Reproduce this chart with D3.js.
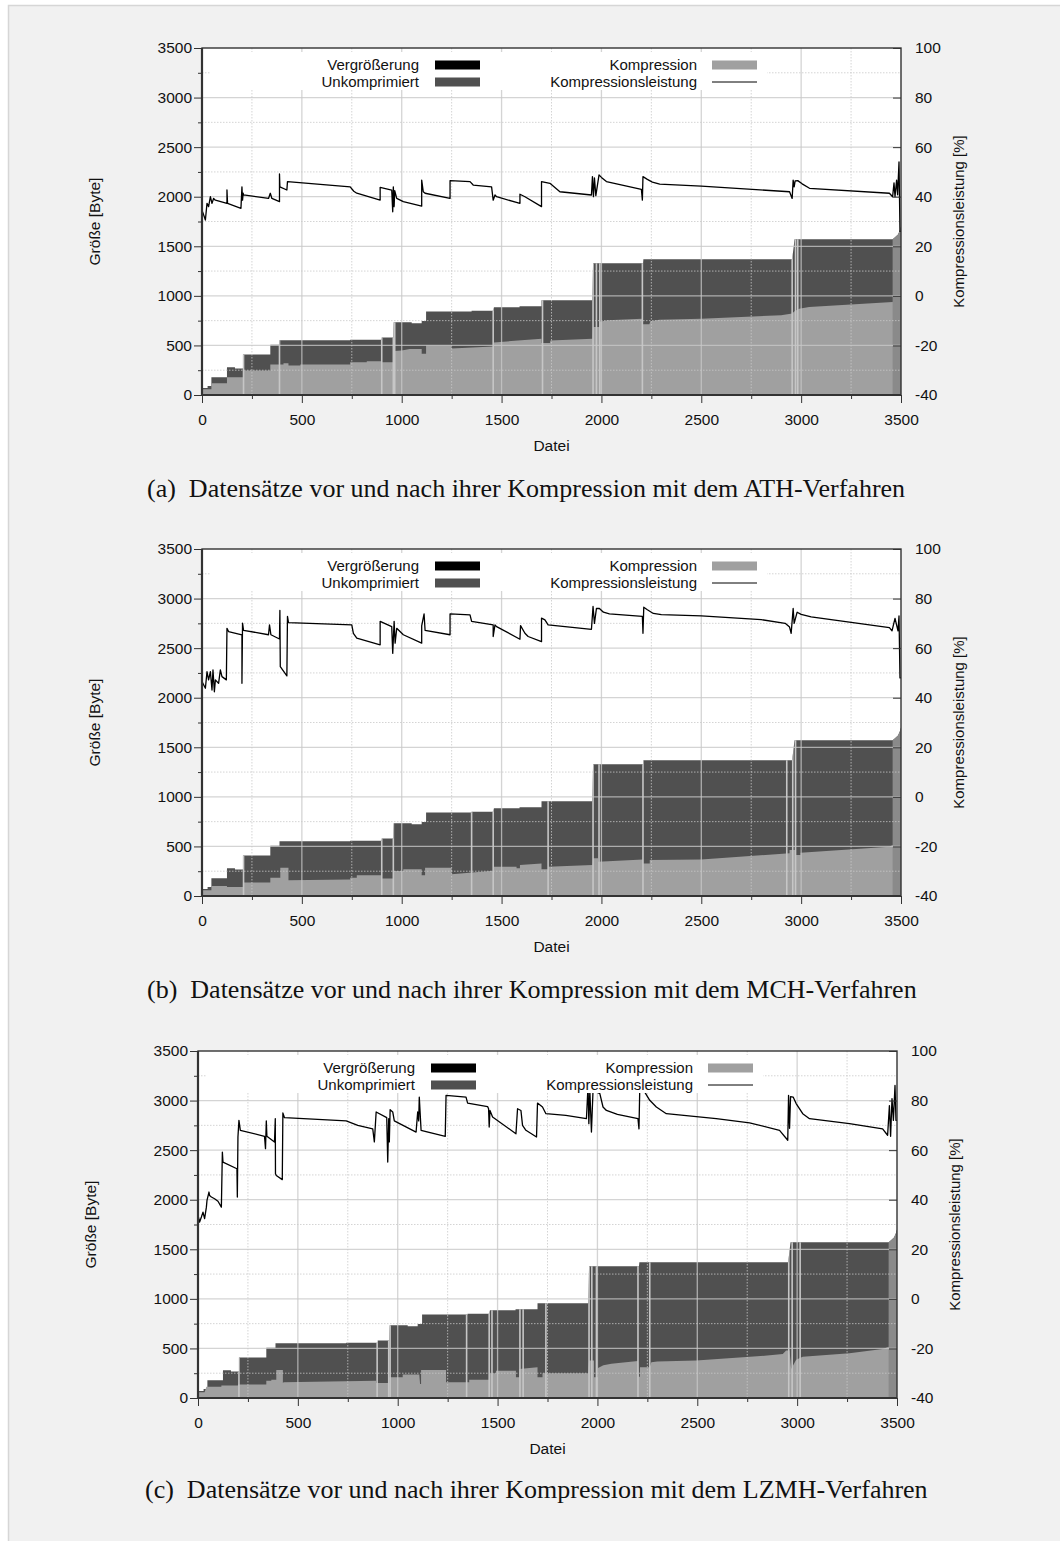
<!DOCTYPE html>
<html>
<head>
<meta charset="utf-8">
<script src="https://cdn.jsdelivr.net/npm/d3@7"></script>
<style>
  html, body { margin: 0; padding: 0; background: #fff; }
  svg { display: block; }
  text { font-family: "Liberation Sans", Arial, Helvetica, sans-serif; fill: #111; }
  .caption { font-family: "Liberation Serif", "Times New Roman", serif; font-size: 26px; white-space: pre; }
</style>
</head>
<body>
<svg id="chart" width="1060" height="1541"></svg>
<script>
// ---- data: file index vs. size in bytes (breakpoints of the per-file series) ----
const unkomprimiert = [
  [0,71],[28,71],[28,91],[47,91],[47,179],[125,179],[125,280],[165,280],[165,268],[205,268],
  [205,409],[342,409],[342,507],[388,507],[388,551],[742,551],[742,557],[900,557],[900,581],
  [958,581],[960,733],[1050,733],[1050,724],[1100,724],[1100,747],[1122,747],[1122,841],
  [1350,841],[1350,851],[1458,851],[1462,885],[1590,885],[1590,895],[1700,895],[1700,956],
  [1955,956],[1958,1328],[2208,1328],[2210,1368],[2955,1368],[2967,1571],[3458,1571],
  [3470,1590],[3485,1620],[3495,1665],[3500,1700]
];

const kompressionATH = [
  [0,57],[47,57],[47,118],[125,118],[125,179],[205,179],[205,247],[342,247],[342,307],
  [408,307],[408,321],[433,321],[433,297],[492,297],[492,307],[742,307],[742,331],[825,331],
  [825,341],[900,341],[900,331],[958,331],[962,443],[1000,450],[1040,463],[1100,463],
  [1100,415],[1122,415],[1122,500],[1250,500],[1250,470],[1458,490],[1462,530],[1700,568],
  [1700,524],[1742,524],[1745,550],[1955,568],[1958,686],[1990,686],[1990,740],[2030,755],
  [2205,770],[2205,713],[2240,713],[2245,745],[2290,758],[2500,770],[2900,804],[2955,821],
  [2967,845],[2990,870],[3040,888],[3458,939],[3480,990],[3500,1000]
];

const kompressionMCH = [
  [0,58],[47,58],[47,102],[125,102],[125,92],[205,92],[205,136],[342,136],[342,183],
  [392,183],[392,285],[433,285],[433,159],[742,166],[742,183],[775,183],[775,210],[900,210],
  [900,176],[958,176],[958,251],[1008,251],[1008,271],[1100,271],[1100,210],[1117,210],
  [1117,285],[1250,285],[1250,220],[1458,254],[1458,295],[1575,295],[1575,280],[1592,280],
  [1592,312],[1700,329],[1700,271],[1733,271],[1733,295],[1955,312],[1958,380],[1983,380],
  [1983,346],[2208,369],[2208,329],[2242,329],[2242,363],[2500,369],[2942,431],[2942,464],
  [2972,464],[2972,414],[2997,414],[2997,437],[3442,498],[3458,515],[3500,520]
];

const kompressionLZMH = [
  [0,57],[33,57],[42,114],[117,114],[117,125],[200,125],[200,135],[342,135],[342,175],
  [367,175],[367,185],[392,185],[392,283],[425,283],[425,148],[428,158],[892,175],[892,152],
  [958,152],[958,209],[1025,209],[1025,236],[1108,236],[1112,141],[1117,141],[1117,283],
  [1242,283],[1242,158],[1358,158],[1358,185],[1458,185],[1458,249],[1492,249],[1492,276],
  [1592,276],[1592,209],[1608,209],[1608,293],[1700,310],[1700,209],[1725,209],[1725,249],
  [1953,249],[1958,377],[1983,377],[1983,209],[2003,209],[2003,303],[2030,330],[2070,345],
  [2130,358],[2203,372],[2208,215],[2213,215],[2213,310],[2262,310],[2270,360],[2300,367],
  [2495,377],[2800,420],[2928,444],[2945,478],[2962,478],[2970,293],[2995,385],[3028,417],
  [3262,451],[3428,495],[3453,512],[3495,545],[3500,545]
];

// ---- compression ratio in percent ----
const leistungATH = [
  [0,34.6],[17,30.6],[25,37.3],[33,36],[42,40],[50,37.3],[58,39.3],[67,38.6],[125,37.3],
  [125,42.7],[128,37.3],[195,35.3],[200,44],[203,38.6],[206,41.4],[208,40.7],[333,39.3],
  [342,41.4],[350,39.3],[388,38],[388,49.2],[390,44],[425,42.7],[428,46.1],[742,44],
  [760,42.2],[775,41.4],[892,38.6],[892,43.8],[950,42.7],[955,33.9],[958,44],[962,36],
  [965,42.4],[975,39.3],[1008,38],[1100,36.2],[1100,46.7],[1108,42],[1117,41.4],[1242,39.3],
  [1242,46.5],[1342,46.1],[1358,44.7],[1450,44],[1458,38.6],[1467,40.7],[1475,40],
  [1592,37.3],[1592,41],[1617,40],[1700,36],[1700,46.1],[1742,45.4],[1792,42],[1950,40.7],
  [1955,48.1],[1960,40],[1965,47.6],[1972,40.4],[1988,48.8],[2000,47.8],[2025,46.1],
  [2200,43],[2205,38.6],[2208,48.1],[2230,47],[2255,45.9],[2292,45.1],[2500,44.3],
  [2942,42],[2955,39.3],[2960,46.7],[2965,44],[2970,46.4],[2983,46.5],[3005,45.2],
  [3042,43.4],[3442,41.4],[3458,40],[3465,45.6],[3470,40],[3478,46.7],[3483,40.8],
  [3490,54],[3495,26],[3500,26]
];

const leistungMCH = [
  [0,46.5],[8,45.2],[17,43.8],[25,50.5],[33,47.2],[42,50.5],[50,43.1],[55,51.2],[62,42.4],
  [67,47.2],[75,46.5],[83,45.8],[92,51.2],[100,48.5],[122,47.2],[125,68],[133,66.7],
  [200,65.4],[200,45.8],[203,70.1],[208,67.2],[333,65.4],[338,69.4],[345,65.4],[388,63.7],
  [390,75.2],[392,52.5],[425,48.8],[428,72.8],[433,70.3],[750,69.4],[758,66],[775,64],
  [892,61.3],[892,70.8],[950,68.7],[955,57.9],[962,70.8],[967,62],[975,68],[1008,65.4],
  [1100,62],[1100,69],[1112,73.8],[1117,67.2],[1242,65.4],[1242,73.8],[1342,73.4],
  [1350,70.8],[1458,69.4],[1458,64.7],[1467,69.4],[1475,68.7],[1592,63.6],[1595,69.1],
  [1617,66],[1633,64.7],[1700,62.6],[1700,72.1],[1717,71.4],[1733,69.4],[1842,68.5],
  [1950,67.6],[1958,76.8],[1965,70],[1975,76],[1990,76],[2010,74.5],[2040,73.8],
  [2205,72.8],[2208,66],[2212,76.5],[2230,75.5],[2260,74],[2300,73.5],[2500,73],
  [2800,71.5],[2920,70],[2942,68.5],[2950,66],[2960,76],[2965,70],[2980,74.5],[3000,73.6],
  [3050,72.6],[3442,68.3],[3455,67],[3470,72],[3485,67],[3490,73],[3495,48],[3500,48]
];

const leistungLZMH = [
  [0,33.7],[8,31],[17,33],[25,35],[33,32.4],[42,37],[45,39.7],[55,43.1],[58,41.7],[67,41.1],
  [83,40.4],[100,39.4],[117,37],[122,59.2],[125,55.2],[195,52.5],[197,41.1],[200,65.3],
  [205,72],[212,68],[333,65.6],[338,60.6],[342,71.8],[345,65.6],[383,63.3],[387,72.7],
  [388,50.5],[392,49.8],[422,48.1],[425,75],[433,73.1],[742,71.8],[800,70],[875,68.6],
  [883,63.3],[892,75.4],[945,73.1],[950,55.2],[955,72.7],[958,63.3],[962,76.3],[975,75.4],
  [983,71.8],[1092,67.3],[1100,75.4],[1105,71.8],[1108,81.4],[1117,68],[1238,65.6],
  [1242,82.1],[1342,81.4],[1350,79],[1450,77.6],[1455,76.7],[1458,69.3],[1462,76],
  [1475,73.4],[1592,66.6],[1600,76.7],[1617,76],[1625,70],[1642,68],[1695,65.3],[1700,79],
  [1725,77.4],[1742,74.7],[1842,74],[1945,72.7],[1953,86.1],[1957,70.7],[1962,84],
  [1970,67.3],[1978,84.2],[2012,82.8],[2028,77.4],[2045,76],[2100,74.4],[2203,72.7],
  [2208,68.6],[2212,84.8],[2237,83.4],[2262,80.1],[2295,77.4],[2345,74.7],[2595,72.7],
  [2762,71],[2912,68],[2953,64],[2957,82.1],[2962,68.8],[2967,81.6],[2980,81.4],[2995,78.8],
  [3028,74.7],[3062,72.7],[3262,70.7],[3428,68.6],[3453,66],[3462,78],[3468,65.6],
  [3475,80.8],[3482,72],[3490,86.1],[3495,72],[3500,72]
];

// files whose bars show up pale
const blasseATH  = [208, 388, 900, 958, 965, 1458, 1705, 1958, 1975, 1992, 2205, 2955, 2972, 2983];
const blasseMCH  = [208, 900, 958, 1350, 1458, 1733, 1958, 1988, 2208, 2928, 2958, 2972];
const blasseLZMH = [205, 897, 955, 962, 1345, 1458, 1472, 1612, 1628, 1742, 1958, 1972, 1995,
                    2203, 2262, 2958, 2975, 3015];
const mischBereich = [3458, 3500];   // last files: mixed bars

// ---- axis ticks ----
const xTicksMajor = [0, 500, 1000, 1500, 2000, 2500, 3000, 3500];
const xTicksMinor = [250, 750, 1250, 1750, 2250, 2750, 3250];
const yTicksMajor = [0, 500, 1000, 1500, 2000, 2500, 3000, 3500];
const yTicksMinor = [250, 750, 1250, 1750, 2250, 2750, 3250];
const rTicks = [-40, -20, 0, 20, 40, 60, 80, 100];

const legendLabels = ["Vergrößerung", "Unkomprimiert", "Kompression", "Kompressionsleistung"];
const captions = [
  "(a)  Datensätze vor und nach ihrer Kompression mit dem ATH-Verfahren",
  "(b)  Datensätze vor und nach ihrer Kompression mit dem MCH-Verfahren",
  "(c)  Datensätze vor und nach ihrer Kompression mit dem LZMH-Verfahren"
];

const C_DARK = "#505050", C_LIGHT = "#a0a0a0", C_PALE = "#c6c6c6", C_MIX = "#8a8a8a";
const W = 699, H = 347;
const plain = d => String(d);

const svg = d3.select("#chart");
svg.append("rect").attr("x", 8.5).attr("y", 5.5).attr("width", 1060).attr("height", 1545)
  .attr("fill", "#f1f1f1").attr("stroke", "#d6d6d6").attr("stroke-width", 1.5);

const panels = [
  { left: 202, top: 48,   komp: kompressionATH,  leist: leistungATH,  blass: blasseATH,  capX: 147, capY: 497 },
  { left: 202, top: 549,  komp: kompressionMCH,  leist: leistungMCH,  blass: blasseMCH,  capX: 147, capY: 998 },
  { left: 198, top: 1051, komp: kompressionLZMH, leist: leistungLZMH, blass: blasseLZMH, capX: 145, capY: 1498 }
];

panels.forEach((p, i) => {
  const g = svg.append("g").attr("transform", `translate(${p.left},${p.top})`);
  const x = d3.scaleLinear().domain([0, 3500]).range([0, W]);
  const y = d3.scaleLinear().domain([0, 3500]).range([H, 0]);
  const yR = d3.scaleLinear().domain([-40, 100]).range([H, 0]);

  const clipId = "plot" + i, clipU = "unk" + i;
  const defs = g.append("defs");
  defs.append("clipPath").attr("id", clipId).append("rect").attr("width", W).attr("height", H);

  const area = d3.area().x(d => x(d[0])).y0(y(0)).y1(d => y(d[1]));
  defs.append("clipPath").attr("id", clipU).append("path").attr("d", area(unkomprimiert));

  g.append("rect").attr("width", W).attr("height", H).attr("fill", "#fff");

  const plot = g.append("g").attr("clip-path", `url(#${clipId})`);
  // uncompressed and compressed sizes
  plot.append("path").attr("d", area(unkomprimiert)).attr("fill", C_DARK);
  plot.append("path").attr("d", area(p.komp)).attr("fill", C_LIGHT);

  // pale bars and the mixed region at the end
  const ug = plot.append("g").attr("clip-path", `url(#${clipU})`);
  ug.append("rect")
    .attr("x", x(mischBereich[0])).attr("width", x(mischBereich[1]) - x(mischBereich[0]))
    .attr("y", 0).attr("height", H).attr("fill", C_MIX);
  ug.selectAll("line.pale").data(p.blass).join("line").attr("class", "pale")
    .attr("x1", d => x(d)).attr("x2", d => x(d)).attr("y1", 0).attr("y2", H)
    .attr("stroke", C_PALE).attr("stroke-width", 1.6);

  // grid on top of the bars
  const grid = plot.append("g").attr("stroke", "#c8c8c8").attr("stroke-opacity", 0.78);
  grid.selectAll("line.vmaj").data(xTicksMajor.slice(1, -1)).join("line")
    .attr("x1", d => x(d)).attr("x2", d => x(d)).attr("y1", 0).attr("y2", H).attr("stroke-width", 1.3);
  grid.selectAll("line.hmaj").data(yTicksMajor.slice(1, -1)).join("line")
    .attr("y1", d => y(d)).attr("y2", d => y(d)).attr("x1", 0).attr("x2", W).attr("stroke-width", 1.3);
  grid.selectAll("line.vmin").data(xTicksMinor).join("line")
    .attr("x1", d => x(d)).attr("x2", d => x(d)).attr("y1", 0).attr("y2", H)
    .attr("stroke-width", 1).attr("stroke-dasharray", "1.5,1.5");
  grid.selectAll("line.hmin").data(yTicksMinor).join("line")
    .attr("y1", d => y(d)).attr("y2", d => y(d)).attr("x1", 0).attr("x2", W)
    .attr("stroke-width", 1).attr("stroke-dasharray", "1.5,1.5");

  // legend
  const lg = g.append("g");
  lg.append("rect").attr("x", 8).attr("y", 4).attr("width", 557).attr("height", 38).attr("fill", "#fff");
  const rows = [
    { t: legendLabels[0], tx: 217, sx: 233, row: 0, kind: "box", c: "#000" },
    { t: legendLabels[1], tx: 217, sx: 233, row: 1, kind: "box", c: C_DARK },
    { t: legendLabels[2], tx: 495, sx: 510, row: 0, kind: "box", c: C_LIGHT },
    { t: legendLabels[3], tx: 495, sx: 510, row: 1, kind: "line", c: "#000" }
  ];
  rows.forEach(r => {
    const cy = 17 + r.row * 17;
    lg.append("text").attr("x", r.tx).attr("y", cy).attr("dy", "0.35em")
      .attr("text-anchor", "end").style("font-size", "15px").text(r.t);
    if (r.kind === "box") {
      lg.append("rect").attr("x", r.sx).attr("y", cy - 4.5).attr("width", 45).attr("height", 9).attr("fill", r.c);
    } else {
      lg.append("line").attr("x1", r.sx).attr("x2", r.sx + 45).attr("y1", cy).attr("y2", cy)
        .attr("stroke", r.c).attr("stroke-width", 1);
    }
  });

  // compression ratio line
  const line = d3.line().x(d => x(d[0])).y(d => yR(d[1]));
  plot.append("path").attr("d", line(p.leist)).attr("fill", "none")
    .attr("stroke", "#000").attr("stroke-width", 1.3).attr("stroke-linejoin", "round");

  // frame
  g.append("rect").attr("width", W).attr("height", H).attr("fill", "none")
    .attr("stroke", "#333").attr("stroke-width", 1.4);
  g.append("line").attr("x1", 0).attr("x2", 0).attr("y1", 0).attr("y2", H).attr("stroke", "#333").attr("stroke-width", 2.2);
  g.append("line").attr("x1", 0).attr("x2", W).attr("y1", H).attr("y2", H).attr("stroke", "#333").attr("stroke-width", 2.2);

  // axes
  const styleAxis = a => { a.select(".domain").remove(); a.selectAll("text").style("font-size", "15.5px").attr("fill", "#111"); a.selectAll("line").attr("stroke", "#333"); };
  g.append("g").call(d3.axisLeft(y).tickValues(yTicksMajor).tickFormat(plain).tickSize(8).tickPadding(2)).call(styleAxis);
  g.append("g").call(d3.axisLeft(y).tickValues(yTicksMinor).tickSize(4).tickFormat("")).call(styleAxis);
  g.append("g").attr("transform", `translate(0,${H})`)
    .call(d3.axisBottom(x).tickValues(xTicksMajor).tickFormat(plain).tickSize(8).tickPadding(11)).call(styleAxis);
  g.append("g").attr("transform", `translate(0,${H})`)
    .call(d3.axisBottom(x).tickValues(xTicksMinor).tickSize(4).tickFormat("")).call(styleAxis);
  g.append("g").attr("transform", `translate(${W},0)`)
    .call(d3.axisRight(yR).tickValues(rTicks).tickFormat(plain).tickSize(-8).tickPadding(14)).call(styleAxis);

  // axis titles
  g.append("text").attr("transform", `translate(${-107},${H / 2}) rotate(-90)`)
    .attr("text-anchor", "middle").attr("dy", "0.35em").style("font-size", "15.5px").text("Größe [Byte]");
  g.append("text").attr("transform", `translate(${W + 58},${H / 2}) rotate(-90)`)
    .attr("text-anchor", "middle").attr("dy", "0.35em").style("font-size", "15px").text("Kompressionsleistung [%]");
  g.append("text").attr("x", W / 2).attr("y", H + 56).attr("text-anchor", "middle")
    .style("font-size", "15.5px").text("Datei");

  // caption
  svg.append("text").attr("class", "caption").attr("x", p.capX).attr("y", p.capY).text(captions[i]);
});
</script>
</body>
</html>
